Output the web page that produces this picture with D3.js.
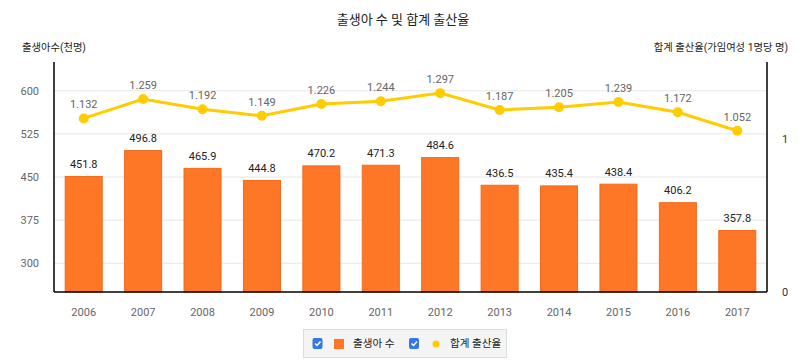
<!DOCTYPE html>
<html>
<head>
<meta charset="utf-8">
<script src="https://cdn.jsdelivr.net/npm/d3@7"></script>
<style>
  body { margin: 0; background: #fff; }
  svg { font-family: Roboto, "Noto Sans CJK KR", sans-serif; }
</style>
</head>
<body>
<svg id="chart" width="807" height="363"></svg>
<script>
// data
var years = ["2006", "2007", "2008", "2009", "2010", "2011", "2012", "2013", "2014", "2015", "2016", "2017"];
var births = [451.8, 496.8, 465.9, 444.8, 470.2, 471.3, 484.6, 436.5, 435.4, 438.4, 406.2, 357.8];
var tfr = [1.132, 1.259, 1.192, 1.149, 1.226, 1.244, 1.297, 1.187, 1.205, 1.239, 1.172, 1.052];
var leftTicks = [300, 375, 450, 525, 600];
var rightTicks = [0, 1];

var svg = d3.select("#chart");
// note: "top" is taken by window.top, so use plot* names
var plotL = 54, plotR = 767, plotT = 62, plotB = 292;

var x = d3.scaleBand().domain(years).range([plotL, plotR]).paddingInner(0.36).paddingOuter(0.18);
var y = d3.scaleLinear().domain([250, 650]).range([plotB, plotT]);
var y2 = d3.scaleLinear().domain([0, 1.5]).range([plotB, plotT]);

var rows = years.map(function(d, i) { return { year: d, births: births[i], tfr: tfr[i] }; });

// title
svg.append("text")
  .attr("x", 403).attr("y", 24)
  .attr("text-anchor", "middle")
  .style("font-size", "13px").style("fill", "#222")
  .text("출생아 수 및 합계 출산율");

svg.append("text")
  .attr("x", 22).attr("y", 51)
  .style("font-size", "10.3px").style("fill", "#222")
  .text("출생아수(천명)");

svg.append("text")
  .attr("x", 788).attr("y", 51)
  .attr("text-anchor", "end")
  .style("font-size", "10.3px").style("fill", "#222")
  .text("합계 출산율(가임여성 1명당 명)");

// grid
svg.append("g").selectAll("line")
  .data(leftTicks)
  .enter().append("line")
    .attr("x1", plotL).attr("x2", plotR)
    .attr("y1", function(d) { return y(d); })
    .attr("y2", function(d) { return y(d); })
    .style("stroke", "#e6e6e6").style("stroke-width", 1);

// left axis
var gl = svg.append("g").attr("transform", "translate(" + plotL + ",0)")
  .call(d3.axisLeft(y).tickValues(leftTicks).tickSize(0).tickPadding(15));
gl.select(".domain").remove();
gl.selectAll("text").style("font-size", "11px").style("fill", "#666").style("font-family", "Roboto, sans-serif");

// right axis
var gr = svg.append("g").attr("transform", "translate(" + plotR + ",0)")
  .call(d3.axisRight(y2).tickValues(rightTicks).tickFormat(d3.format("d")).tickSize(0).tickPadding(15));
gr.select(".domain").remove();
gr.selectAll("text").style("font-size", "11px").style("fill", "#333").style("font-family", "Roboto, sans-serif");

// bottom axis
var gb = svg.append("g").attr("transform", "translate(0," + plotB + ")")
  .call(d3.axisBottom(x).tickSize(0).tickPadding(16));
gb.select(".domain").remove();
gb.selectAll("text").style("font-size", "11px").style("fill", "#666").style("font-family", "Roboto, sans-serif");

// bars
svg.append("g").selectAll("rect")
  .data(rows)
  .enter().append("rect")
    .attr("x", function(d) { return x(d.year) + 0.5; })
    .attr("y", function(d) { return y(d.births) + 0.5; })
    .attr("width", x.bandwidth() - 1)
    .attr("height", function(d) { return plotB - y(d.births) - 0.5; })
    .style("fill", "#fd7727")
    .style("stroke", "#f26a1b")
    .style("stroke-width", 1);

svg.append("g").selectAll("text")
  .data(rows)
  .enter().append("text")
    .attr("x", function(d) { return x(d.year) + x.bandwidth() / 2; })
    .attr("y", function(d) { return y(d.births) - 8; })
    .attr("text-anchor", "middle")
    .style("font-size", "11px").style("fill", "#222")
    .text(function(d) { return d.births.toFixed(1); });

// axis lines
svg.append("line").attr("x1", plotL).attr("x2", plotL).attr("y1", plotT).attr("y2", plotB)
  .style("stroke", "#000").style("stroke-width", 1.5);
svg.append("line").attr("x1", plotR).attr("x2", plotR).attr("y1", plotT).attr("y2", plotB)
  .style("stroke", "#000").style("stroke-width", 1.5);
svg.append("line").attr("x1", plotL).attr("x2", plotR).attr("y1", plotB).attr("y2", plotB)
  .style("stroke", "#000").style("stroke-width", 1.5);

// rate line
var line = d3.line()
  .x(function(d) { return x(d.year) + x.bandwidth() / 2; })
  .y(function(d) { return y2(d.tfr); });

svg.append("path")
  .datum(rows)
  .attr("d", line)
  .style("fill", "none")
  .style("stroke", "#ffcc00")
  .style("stroke-width", 3);

svg.append("g").selectAll("circle")
  .data(rows)
  .enter().append("circle")
    .attr("cx", function(d) { return x(d.year) + x.bandwidth() / 2; })
    .attr("cy", function(d) { return y2(d.tfr); })
    .attr("r", 5)
    .style("fill", "#ffcc00");

svg.append("g").selectAll("text")
  .data(rows)
  .enter().append("text")
    .attr("x", function(d) { return x(d.year) + x.bandwidth() / 2; })
    .attr("y", function(d) { return y2(d.tfr) - 10; })
    .attr("text-anchor", "middle")
    .style("font-size", "11px").style("fill", "#666")
    .text(function(d) { return d.tfr.toFixed(3); });

// legend
var lg = svg.append("g");
lg.append("rect").attr("x", 303.5).attr("y", 329.5).attr("width", 203).attr("height", 28)
  .style("fill", "#f4f4f4").style("stroke", "#dcdcdc");

function checkbox(cx) {
  lg.append("rect").attr("x", cx).attr("y", 338).attr("width", 10).attr("height", 11).attr("rx", 2)
    .style("fill", "#3478e5");
  lg.append("path").attr("d", "M" + (cx + 2.5) + ",343.5 l2,2 l3.5,-4")
    .style("fill", "none").style("stroke", "#fff").style("stroke-width", 1.5);
}
checkbox(312.5);
lg.append("rect").attr("x", 334).attr("y", 339).attr("width", 10).attr("height", 10).style("fill", "#fd7727");
lg.append("text").attr("x", 353).attr("y", 347).style("font-size", "10.6px").style("fill", "#222").text("출생아 수");
checkbox(409);
lg.append("circle").attr("cx", 436).attr("cy", 344).attr("r", 3.5).style("fill", "#ffcc00");
lg.append("text").attr("x", 450).attr("y", 347).style("font-size", "10.6px").style("fill", "#222").text("합계 출산율");
</script>
</body>
</html>
